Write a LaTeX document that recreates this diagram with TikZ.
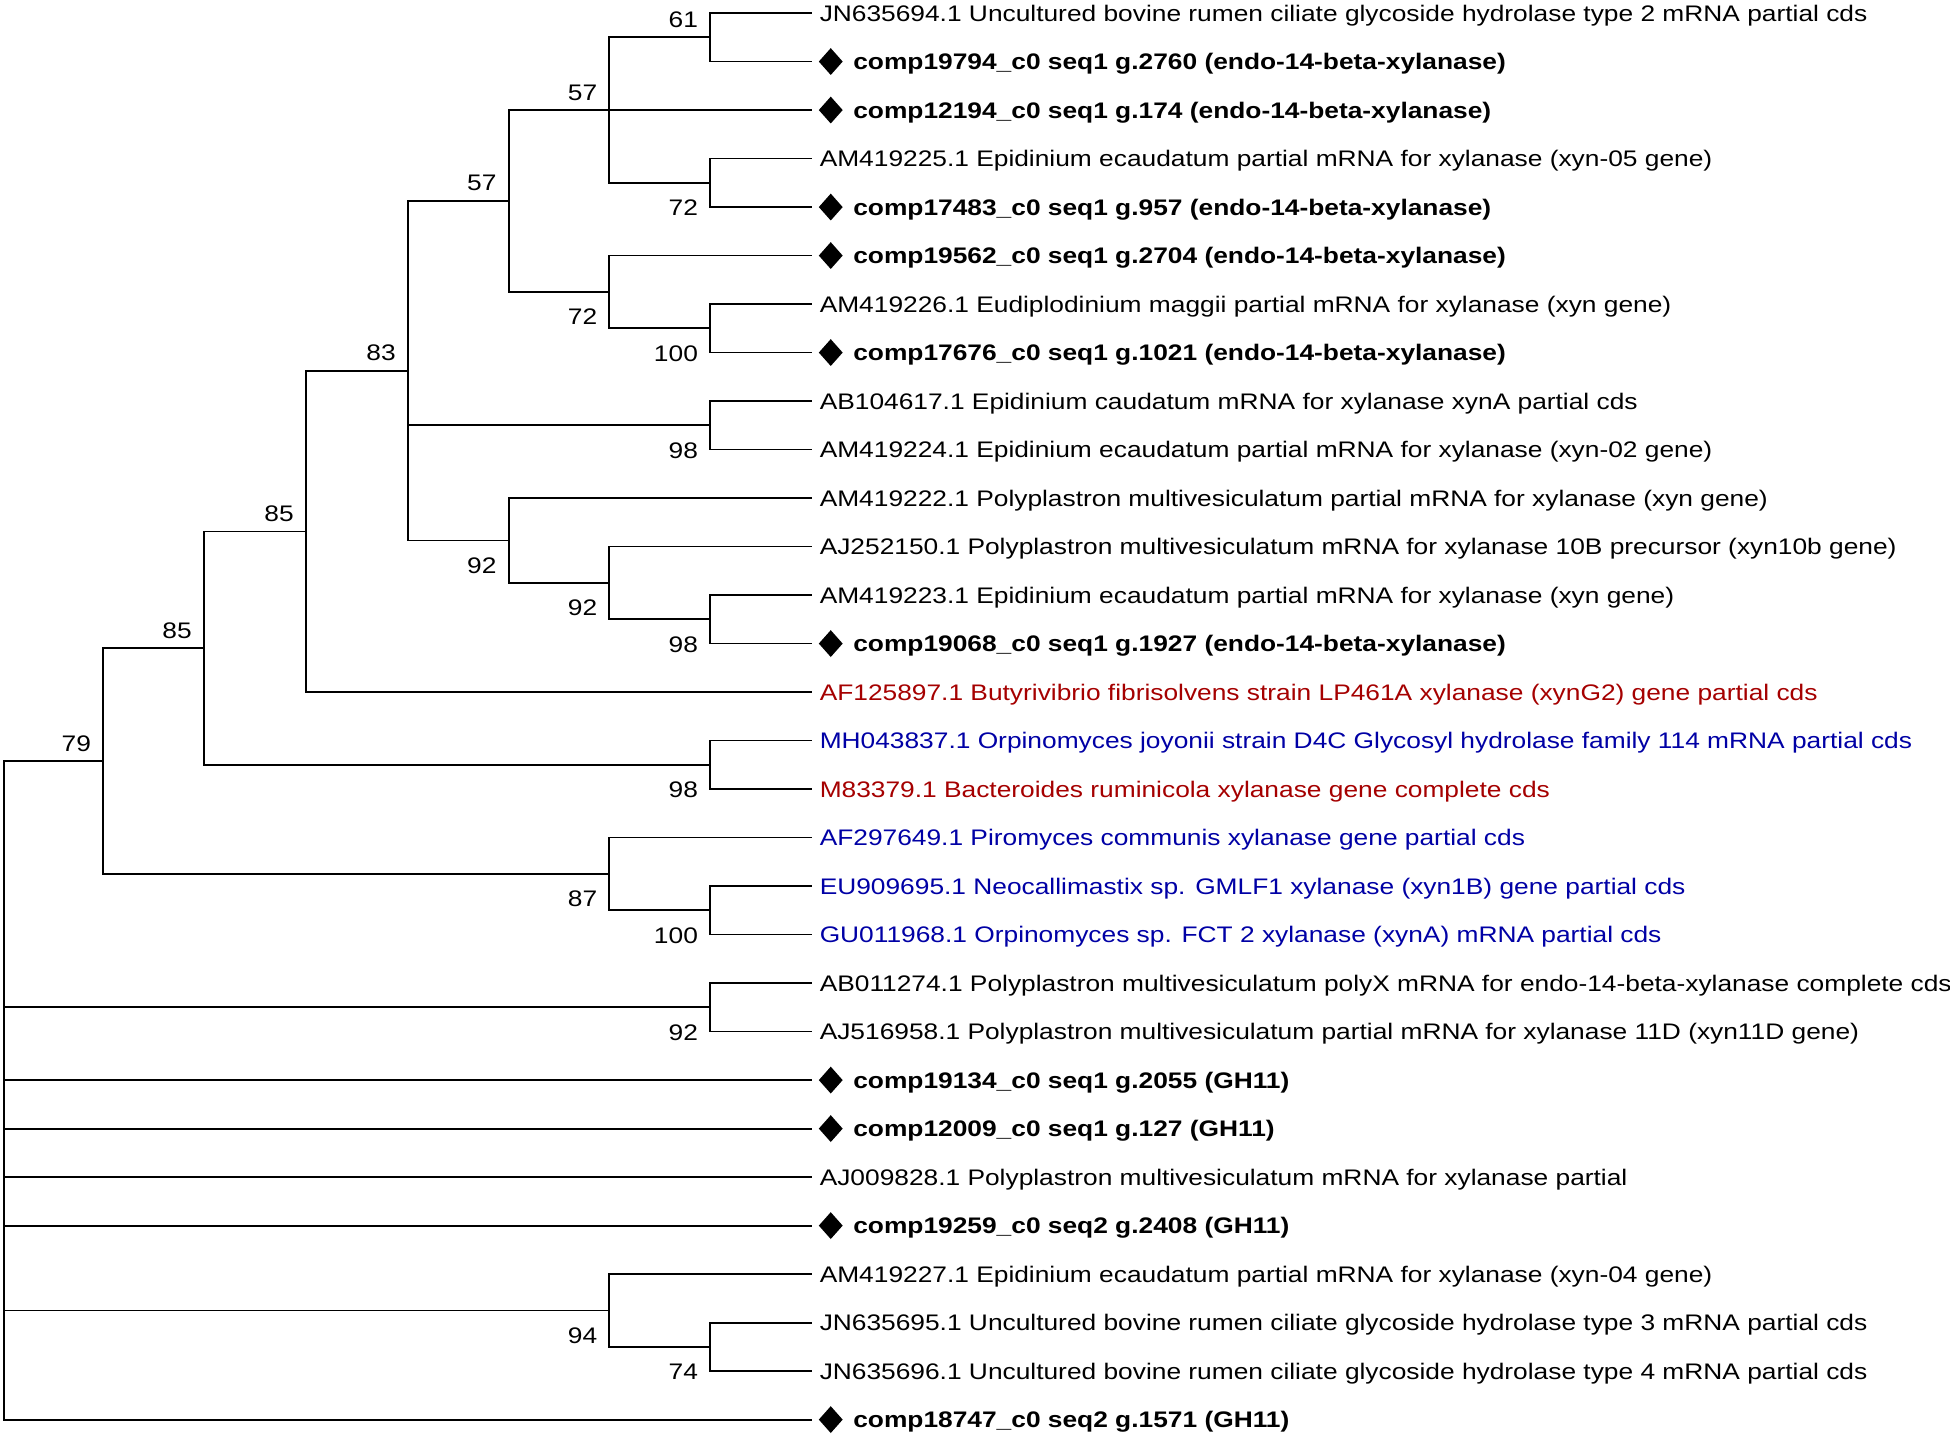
\documentclass[tikz,border=0pt]{standalone}
\usepackage{fontspec}
\setmainfont{Liberation Sans}[FakeStretch=1.17]
\usetikzlibrary{shapes.geometric}
\definecolor{treered}{RGB}{165,0,0}
\definecolor{treeblue}{RGB}{0,0,165}
\begin{document}
\begin{tikzpicture}[x=1.2436pt,y=-1.2436pt,
  br/.style={line width=1.8pt, line cap=rect, black},
  leaf/.style={anchor=west, inner sep=0pt, text height=16pt, text depth=0pt, font=\fontsize{22.5}{27}\selectfont},
  bleaf/.style={leaf, font=\fontsize{22.5}{27}\selectfont\bfseries},
  dia/.style={diamond, fill=black, inner sep=0pt, minimum width=24pt, minimum height=27pt},
  lab/.style={anchor=east, inner sep=0pt, text height=16pt, text depth=0pt, font=\fontsize{22.5}{27}\selectfont},
  labA/.style={lab, xshift=-12pt, yshift=18pt},
  labB/.style={lab, xshift=-12pt, yshift=-25pt}]
\useasboundingbox (0,0) rectangle (1568,1155);
% tips
\foreach \i/\y in {1/10.5,2/49.5,3/88.5,4/127.5,5/166.5,6/205.5,7/244.5,8/283.5,9/322.5,10/361.5,11/400.5,12/439.5,13/478.5,14/517.5,15/556.5,16/595.5,17/634.5,18/673.5,19/712.5,20/751.5,21/790.5,22/829.5,23/868.5,24/907.5,25/946.5,26/985.5,27/1024.5,28/1063.5,29/1102.5,30/1141.5}
  \coordinate (t\i) at (652,\y);
% internal nodes
\coordinate (n61) at (571,30);
\coordinate (n72a) at (571,147);
\coordinate (n57b) at (490,88.5);
\coordinate (n100a) at (571,264);
\coordinate (n72b) at (490,234.75);
\coordinate (n57a) at (409,161.6);
\coordinate (n98b) at (571,342);
\coordinate (n98c) at (571,498);
\coordinate (n92c) at (490,468.75);
\coordinate (n92b) at (409,434.6);
\coordinate (n83) at (328,298.1);
\coordinate (n85b) at (246,427.3);
\coordinate (n98d) at (571,615);
\coordinate (n85a) at (164,521.2);
\coordinate (n100b) at (571,732);
\coordinate (n87) at (490,702.75);
\coordinate (n79) at (83,612);
\coordinate (n92a) at (571,810);
\coordinate (n74) at (571,1083);
\coordinate (n94) at (490,1053.75);
\coordinate (root) at (3,876.75);
% branches
\draw[br] (n61) |- (t1); \draw[br] (n61) |- (t2);
\draw[br] (n72a) |- (t4); \draw[br] (n72a) |- (t5);
\draw[br] (n57b) |- (n61); \draw[br] (n57b) |- (t3); \draw[br] (n57b) |- (n72a);
\draw[br] (n100a) |- (t7); \draw[br] (n100a) |- (t8);
\draw[br] (n72b) |- (t6); \draw[br] (n72b) |- (n100a);
\draw[br] (n57a) |- (n57b); \draw[br] (n57a) |- (n72b);
\draw[br] (n98b) |- (t9); \draw[br] (n98b) |- (t10);
\draw[br] (n98c) |- (t13); \draw[br] (n98c) |- (t14);
\draw[br] (n92c) |- (t12); \draw[br] (n92c) |- (n98c);
\draw[br] (n92b) |- (t11); \draw[br] (n92b) |- (n92c);
\draw[br] (n83) |- (n57a); \draw[br] (n83) |- (n98b); \draw[br] (n83) |- (n92b);
\draw[br] (n85b) |- (n83); \draw[br] (n85b) |- (t15);
\draw[br] (n98d) |- (t16); \draw[br] (n98d) |- (t17);
\draw[br] (n85a) |- (n85b); \draw[br] (n85a) |- (n98d);
\draw[br] (n100b) |- (t19); \draw[br] (n100b) |- (t20);
\draw[br] (n87) |- (t18); \draw[br] (n87) |- (n100b);
\draw[br] (n79) |- (n85a); \draw[br] (n79) |- (n87);
\draw[br] (n92a) |- (t21); \draw[br] (n92a) |- (t22);
\draw[br] (n74) |- (t28); \draw[br] (n74) |- (t29);
\draw[br] (n94) |- (t27); \draw[br] (n94) |- (n74);
\draw[br] (root) |- (n79); \draw[br] (root) |- (n92a);
\draw[br] (root) |- (t23); \draw[br] (root) |- (t24); \draw[br] (root) |- (t25);
\draw[br] (root) |- (t26); \draw[br] (root) |- (n94); \draw[br] (root) |- (t30);
% bootstrap labels
\node[labA] (b61) at (n61) {61};
\node[labA] (b57b) at (n57b) {57};
\node[labA] (b57a) at (n57a) {57};
\node[labA] (b83) at (n83) {83};
\node[labA] (b85b) at (n85b) {85};
\node[labA] (b85a) at (n85a) {85};
\node[labA] (b79) at (n79) {79};
\node[labB] (b72a) at (n72a) {72};
\node[labB] (b72b) at (n72b) {72};
\node[labB] (b100a) at (n100a) {100};
\node[labB] (b98b) at (n98b) {98};
\node[labB] (b92b) at (n92b) {92};
\node[labB] (b92c) at (n92c) {92};
\node[labB] (b98c) at (n98c) {98};
\node[labB] (b98d) at (n98d) {98};
\node[labB] (b87) at (n87) {87};
\node[labB] (b100b) at (n100b) {100};
\node[labB] (b92a) at (n92a) {92};
\node[labB] (b94) at (n94) {94};
\node[labB] (b74) at (n74) {74};
% leaf labels
\node[leaf] (l1) at (659,10.5) {JN635694.1 Uncultured bovine rumen ciliate glycoside hydrolase type 2 mRNA partial cds};
\node[dia] (d2) at (668,49.5) {}; \node[bleaf] (l2) at (686,49.5) {comp19794\_c0 seq1 g.2760 (endo-14-beta-xylanase)};
\node[dia] (d3) at (668,88.5) {}; \node[bleaf] (l3) at (686,88.5) {comp12194\_c0 seq1 g.174 (endo-14-beta-xylanase)};
\node[leaf] (l4) at (659,127.5) {AM419225.1 Epidinium ecaudatum partial mRNA for xylanase (xyn-05 gene)};
\node[dia] (d5) at (668,166.5) {}; \node[bleaf] (l5) at (686,166.5) {comp17483\_c0 seq1 g.957 (endo-14-beta-xylanase)};
\node[dia] (d6) at (668,205.5) {}; \node[bleaf] (l6) at (686,205.5) {comp19562\_c0 seq1 g.2704 (endo-14-beta-xylanase)};
\node[leaf] (l7) at (659,244.5) {AM419226.1 Eudiplodinium maggii partial mRNA for xylanase (xyn gene)};
\node[dia] (d8) at (668,283.5) {}; \node[bleaf] (l8) at (686,283.5) {comp17676\_c0 seq1 g.1021 (endo-14-beta-xylanase)};
\node[leaf] (l9) at (659,322.5) {AB104617.1 Epidinium caudatum mRNA for xylanase xynA partial cds};
\node[leaf] (l10) at (659,361.5) {AM419224.1 Epidinium ecaudatum partial mRNA for xylanase (xyn-02 gene)};
\node[leaf] (l11) at (659,400.5) {AM419222.1 Polyplastron multivesiculatum partial mRNA for xylanase (xyn gene)};
\node[leaf] (l12) at (659,439.5) {AJ252150.1 Polyplastron multivesiculatum mRNA for xylanase 10B precursor (xyn10b gene)};
\node[leaf] (l13) at (659,478.5) {AM419223.1 Epidinium ecaudatum partial mRNA for xylanase (xyn gene)};
\node[dia] (d14) at (668,517.5) {}; \node[bleaf] (l14) at (686,517.5) {comp19068\_c0 seq1 g.1927 (endo-14-beta-xylanase)};
\node[leaf, text=treered] (l15) at (659,556.5) {AF125897.1 Butyrivibrio fibrisolvens strain LP461A xylanase (xynG2) gene partial cds};
\node[leaf, text=treeblue] (l16) at (659,595.5) {MH043837.1 Orpinomyces joyonii strain D4C Glycosyl hydrolase family 114 mRNA partial cds};
\node[leaf, text=treered] (l17) at (659,634.5) {M83379.1 Bacteroides ruminicola xylanase gene complete cds};
\node[leaf, text=treeblue] (l18) at (659,673.5) {AF297649.1 Piromyces communis xylanase gene partial cds};
\node[leaf, text=treeblue] (l19) at (659,712.5) {EU909695.1 Neocallimastix sp. GMLF1 xylanase (xyn1B) gene partial cds};
\node[leaf, text=treeblue] (l20) at (659,751.5) {GU011968.1 Orpinomyces sp. FCT 2 xylanase (xynA) mRNA partial cds};
\node[leaf] (l21) at (659,790.5) {AB011274.1 Polyplastron multivesiculatum polyX mRNA for endo-14-beta-xylanase complete cds};
\node[leaf] (l22) at (659,829.5) {AJ516958.1 Polyplastron multivesiculatum partial mRNA for xylanase 11D (xyn11D gene)};
\node[dia] (d23) at (668,868.5) {}; \node[bleaf] (l23) at (686,868.5) {comp19134\_c0 seq1 g.2055 (GH11)};
\node[dia] (d24) at (668,907.5) {}; \node[bleaf] (l24) at (686,907.5) {comp12009\_c0 seq1 g.127 (GH11)};
\node[leaf] (l25) at (659,946.5) {AJ009828.1 Polyplastron multivesiculatum mRNA for xylanase partial};
\node[dia] (d26) at (668,985.5) {}; \node[bleaf] (l26) at (686,985.5) {comp19259\_c0 seq2 g.2408 (GH11)};
\node[leaf] (l27) at (659,1024.5) {AM419227.1 Epidinium ecaudatum partial mRNA for xylanase (xyn-04 gene)};
\node[leaf] (l28) at (659,1063.5) {JN635695.1 Uncultured bovine rumen ciliate glycoside hydrolase type 3 mRNA partial cds};
\node[leaf] (l29) at (659,1102.5) {JN635696.1 Uncultured bovine rumen ciliate glycoside hydrolase type 4 mRNA partial cds};
\node[dia] (d30) at (668,1141.5) {}; \node[bleaf] (l30) at (686,1141.5) {comp18747\_c0 seq2 g.1571 (GH11)};
\end{tikzpicture}
\end{document}
